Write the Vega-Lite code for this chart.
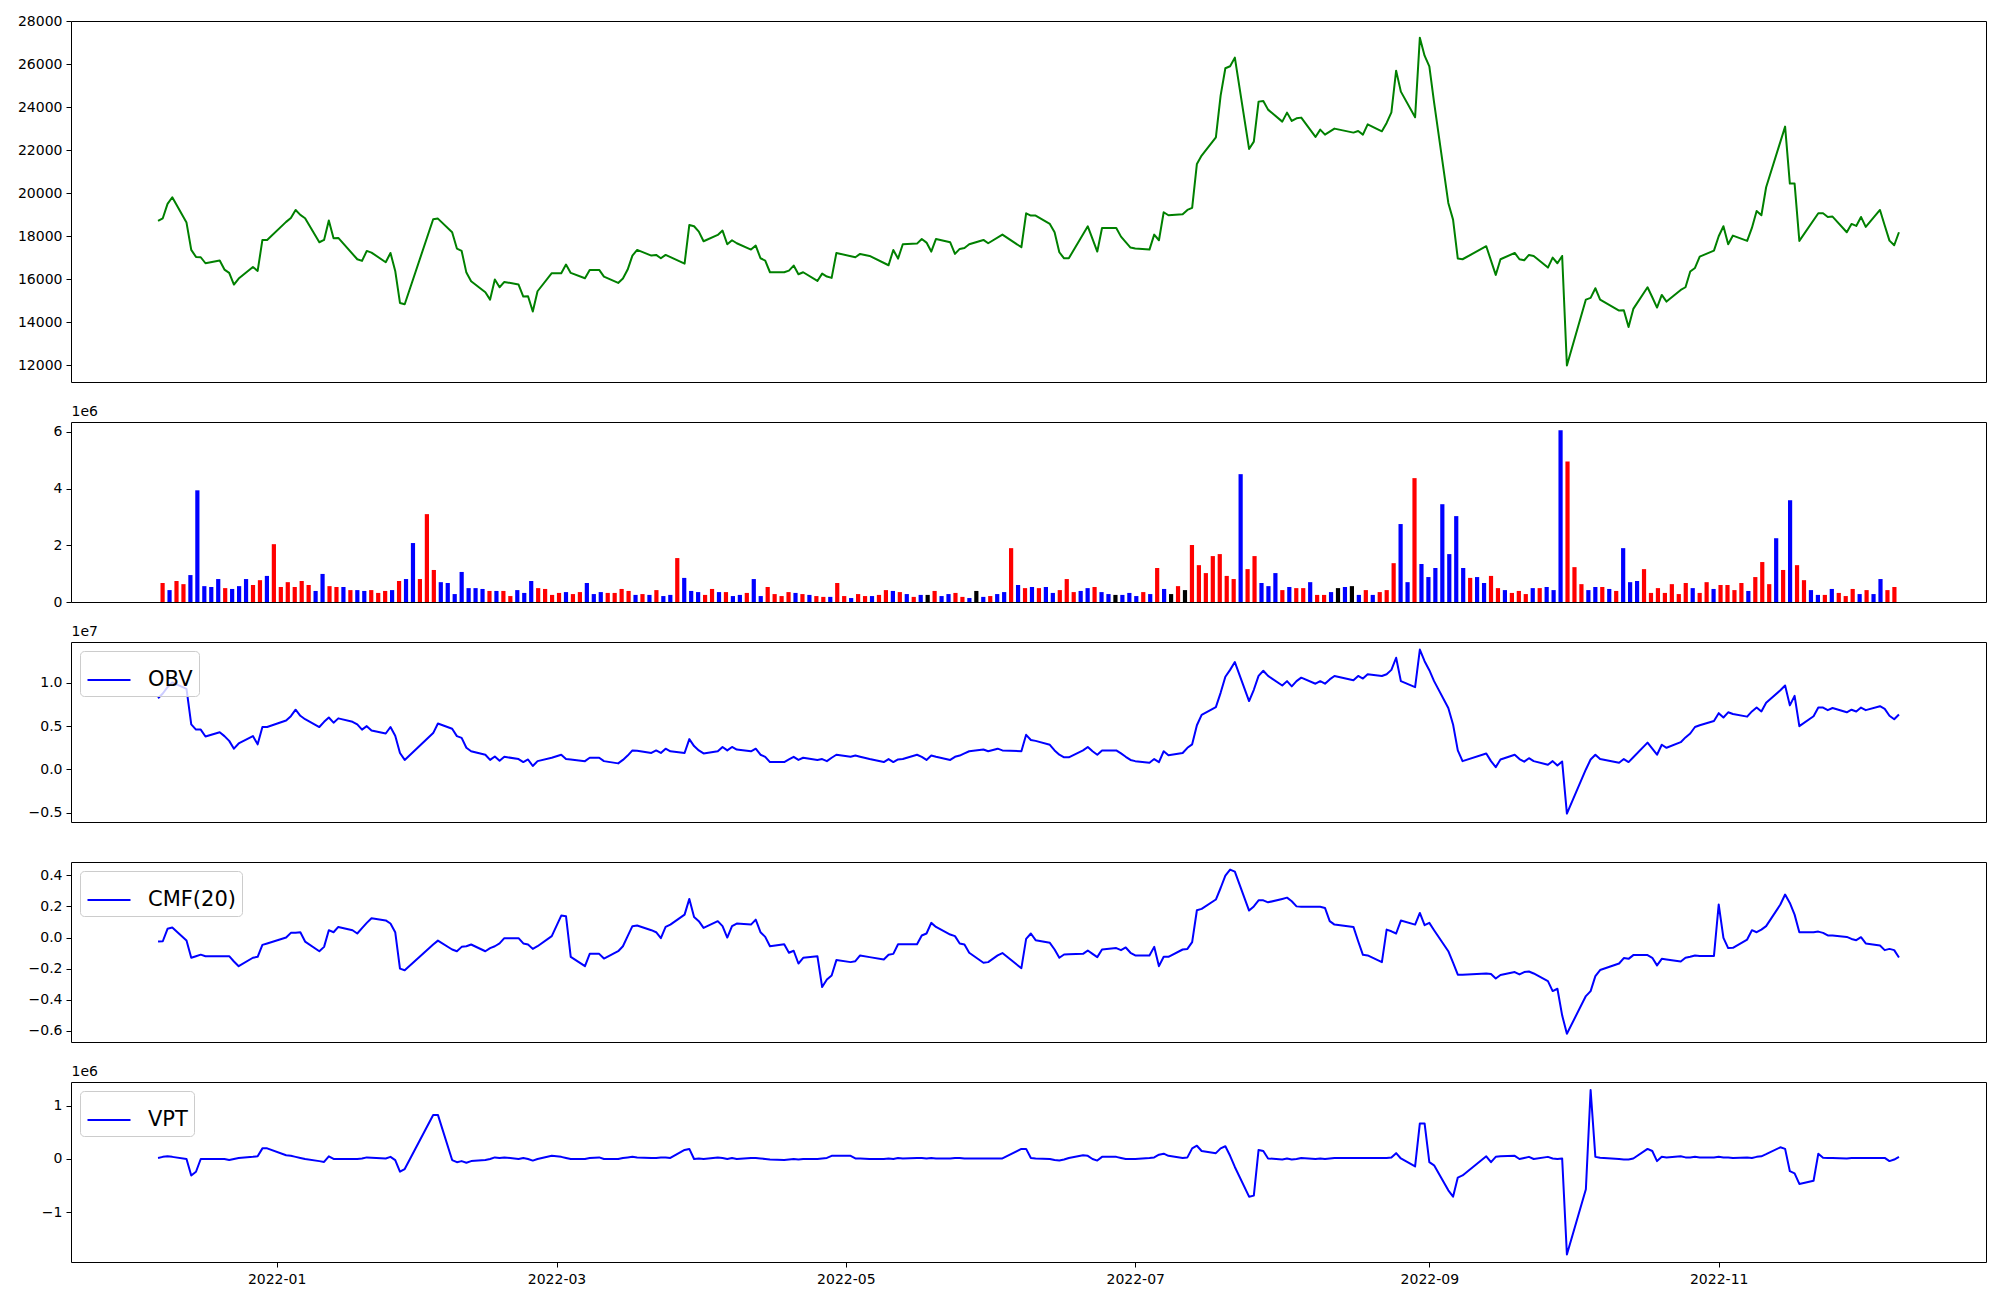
{
"$schema": "https://vega.github.io/schema/vega-lite/v6.json",
"background": "white",
"padding": {"left": 16, "top": 13, "right": 5, "bottom": 5},
"config": {
 "font": "DejaVu Sans",
 "view": {"stroke": "black", "strokeWidth": 1},
 "axis": {"labelFont": "DejaVu Sans", "labelFontSize": 14, "labelColor": "black", "tickColor": "black", "tickSize": 5, "labelPadding": 4, "domain": false, "grid": false, "titleFont": "DejaVu Sans", "titleFontSize": 14, "titleFontWeight": "normal", "titleColor": "black"},
 "legend": {"orient": "top-left", "offset": 9, "symbolType": "stroke", "symbolSize": 1850, "symbolStrokeWidth": 2, "labelFont": "DejaVu Sans", "labelFontSize": 21, "labelColor": "black", "labelOffset": 16, "padding": 6, "fillColor": "rgba(255,255,255,0.8)", "strokeColor": "#cccccc", "cornerRadius": 4, "labelLimit": 0}
},
"datasets": {
"price": [
{"date":"2021-12-07","close":18713},{"date":"2021-12-08","close":18837},{"date":"2021-12-09","close":19503},{"date":"2021-12-10","close":19813},
{"date":"2021-12-13","close":18636},{"date":"2021-12-14","close":17366},{"date":"2021-12-15","close":17041},{"date":"2021-12-16","close":17026},{"date":"2021-12-17","close":16747},
{"date":"2021-12-20","close":16871},{"date":"2021-12-21","close":16453},{"date":"2021-12-22","close":16298},{"date":"2021-12-23","close":15756},{"date":"2021-12-24","close":16035},
{"date":"2021-12-27","close":16577},{"date":"2021-12-28","close":16391},{"date":"2021-12-29","close":17831},{"date":"2021-12-30","close":17831},
{"date":"2022-01-03","close":18670},{"date":"2022-01-04","close":18853},{"date":"2022-01-05","close":19224},{"date":"2022-01-06","close":18992},{"date":"2022-01-07","close":18837},
{"date":"2022-01-10","close":17722},{"date":"2022-01-11","close":17831},{"date":"2022-01-12","close":18729},{"date":"2022-01-13","close":17908},{"date":"2022-01-14","close":17923},
{"date":"2022-01-18","close":16933},{"date":"2022-01-19","close":16855},{"date":"2022-01-20","close":17320},{"date":"2022-01-21","close":17242},
{"date":"2022-01-24","close":16793},{"date":"2022-01-25","close":17226},{"date":"2022-01-26","close":16391},{"date":"2022-01-27","close":14904},{"date":"2022-01-28","close":14842},
{"date":"2022-02-03","close":18791},{"date":"2022-02-04","close":18821},
{"date":"2022-02-07","close":18187},{"date":"2022-02-08","close":17428},{"date":"2022-02-09","close":17320},{"date":"2022-02-10","close":16313},{"date":"2022-02-11","close":15911},
{"date":"2022-02-14","close":15400},{"date":"2022-02-15","close":15059},{"date":"2022-02-16","close":15988},{"date":"2022-02-17","close":15632},{"date":"2022-02-18","close":15880},
{"date":"2022-02-21","close":15756},{"date":"2022-02-22","close":15199},{"date":"2022-02-23","close":15214},{"date":"2022-02-24","close":14502},{"date":"2022-02-25","close":15446},
{"date":"2022-02-28","close":16283},{"date":"2022-03-02","close":16283},{"date":"2022-03-03","close":16685},{"date":"2022-03-04","close":16298},
{"date":"2022-03-07","close":16050},{"date":"2022-03-08","close":16437},{"date":"2022-03-10","close":16437},{"date":"2022-03-11","close":16128},
{"date":"2022-03-14","close":15833},{"date":"2022-03-15","close":16035},{"date":"2022-03-16","close":16453},{"date":"2022-03-17","close":17103},{"date":"2022-03-18","close":17366},
{"date":"2022-03-21","close":17103},{"date":"2022-03-22","close":17134},{"date":"2022-03-23","close":16979},{"date":"2022-03-24","close":17134},
{"date":"2022-03-28","close":16731},{"date":"2022-03-29","close":18527},{"date":"2022-03-30","close":18465},{"date":"2022-03-31","close":18218},{"date":"2022-04-01","close":17769},
{"date":"2022-04-04","close":18063},{"date":"2022-04-05","close":18264},{"date":"2022-04-06","close":17629},{"date":"2022-04-07","close":17815},{"date":"2022-04-08","close":17676},
{"date":"2022-04-11","close":17382},{"date":"2022-04-12","close":17568},{"date":"2022-04-13","close":16979},{"date":"2022-04-14","close":16871},{"date":"2022-04-15","close":16329},
{"date":"2022-04-18","close":16329},{"date":"2022-04-19","close":16406},{"date":"2022-04-20","close":16639},{"date":"2022-04-21","close":16236},{"date":"2022-04-22","close":16329},
{"date":"2022-04-25","close":15926},{"date":"2022-04-26","close":16267},{"date":"2022-04-27","close":16128},{"date":"2022-04-28","close":16066},{"date":"2022-04-29","close":17227},
{"date":"2022-05-03","close":17026},{"date":"2022-05-04","close":17180},{"date":"2022-05-06","close":17087},
{"date":"2022-05-10","close":16654},{"date":"2022-05-11","close":17366},{"date":"2022-05-12","close":16963},{"date":"2022-05-13","close":17629},
{"date":"2022-05-16","close":17660},{"date":"2022-05-17","close":17877},{"date":"2022-05-18","close":17707},{"date":"2022-05-19","close":17289},{"date":"2022-05-20","close":17877},
{"date":"2022-05-23","close":17722},{"date":"2022-05-24","close":17180},{"date":"2022-05-25","close":17413},{"date":"2022-05-26","close":17459},{"date":"2022-05-27","close":17629},
{"date":"2022-05-30","close":17831},{"date":"2022-05-31","close":17676},{"date":"2022-06-03","close":18078},
{"date":"2022-06-07","close":17490},{"date":"2022-06-08","close":19069},{"date":"2022-06-09","close":18961},{"date":"2022-06-10","close":18961},
{"date":"2022-06-13","close":18574},{"date":"2022-06-14","close":18187},{"date":"2022-06-15","close":17258},{"date":"2022-06-16","close":16979},{"date":"2022-06-17","close":16979},
{"date":"2022-06-21","close":18465},{"date":"2022-06-23","close":17289},{"date":"2022-06-24","close":18388},
{"date":"2022-06-27","close":18388},{"date":"2022-06-28","close":17985},{"date":"2022-06-29","close":17730},{"date":"2022-06-30","close":17475},{"date":"2022-07-01","close":17428},
{"date":"2022-07-04","close":17382},{"date":"2022-07-05","close":18078},{"date":"2022-07-06","close":17815},{"date":"2022-07-07","close":19116},{"date":"2022-07-08","close":18977},
{"date":"2022-07-11","close":19023},{"date":"2022-07-12","close":19224},{"date":"2022-07-13","close":19317},{"date":"2022-07-14","close":21361},{"date":"2022-07-15","close":21748},
{"date":"2022-07-18","close":22599},{"date":"2022-07-19","close":24535},{"date":"2022-07-20","close":25805},{"date":"2022-07-21","close":25898},{"date":"2022-07-22","close":26300},
{"date":"2022-07-25","close":22058},{"date":"2022-07-26","close":22398},{"date":"2022-07-27","close":24256},{"date":"2022-07-28","close":24287},{"date":"2022-07-29","close":23885},
{"date":"2022-08-01","close":23327},{"date":"2022-08-02","close":23745},{"date":"2022-08-03","close":23358},{"date":"2022-08-04","close":23482},{"date":"2022-08-05","close":23513},
{"date":"2022-08-08","close":22615},{"date":"2022-08-09","close":22956},{"date":"2022-08-10","close":22723},{"date":"2022-08-12","close":23002},
{"date":"2022-08-16","close":22816},{"date":"2022-08-17","close":22894},{"date":"2022-08-18","close":22723},{"date":"2022-08-19","close":23203},
{"date":"2022-08-22","close":22878},{"date":"2022-08-23","close":23265},{"date":"2022-08-24","close":23761},{"date":"2022-08-25","close":25696},{"date":"2022-08-26","close":24721},
{"date":"2022-08-29","close":23529},{"date":"2022-08-30","close":27229},{"date":"2022-08-31","close":26393},{"date":"2022-09-01","close":25898},{"date":"2022-09-02","close":24225},
{"date":"2022-09-05","close":19549},{"date":"2022-09-06","close":18775},{"date":"2022-09-07","close":16964},{"date":"2022-09-08","close":16933},
{"date":"2022-09-13","close":17537},{"date":"2022-09-15","close":16205},{"date":"2022-09-16","close":16933},
{"date":"2022-09-19","close":17227},{"date":"2022-09-20","close":16933},{"date":"2022-09-21","close":16886},{"date":"2022-09-22","close":17134},{"date":"2022-09-23","close":17087},
{"date":"2022-09-26","close":16545},{"date":"2022-09-27","close":17010},{"date":"2022-09-28","close":16747},{"date":"2022-09-29","close":17087},{"date":"2022-09-30","close":11994},
{"date":"2022-10-04","close":15059},{"date":"2022-10-05","close":15137},{"date":"2022-10-06","close":15586},{"date":"2022-10-07","close":15059},
{"date":"2022-10-11","close":14548},{"date":"2022-10-12","close":14564},{"date":"2022-10-13","close":13789},{"date":"2022-10-14","close":14626},
{"date":"2022-10-17","close":15632},{"date":"2022-10-18","close":15168},{"date":"2022-10-19","close":14688},{"date":"2022-10-20","close":15276},{"date":"2022-10-21","close":14966},
{"date":"2022-10-24","close":15508},{"date":"2022-10-25","close":15632},{"date":"2022-10-26","close":16360},{"date":"2022-10-27","close":16530},{"date":"2022-10-28","close":17057},
{"date":"2022-10-31","close":17335},{"date":"2022-11-01","close":18001},{"date":"2022-11-02","close":18466},{"date":"2022-11-03","close":17630},{"date":"2022-11-04","close":18032},
{"date":"2022-11-07","close":17784},{"date":"2022-11-08","close":18388},{"date":"2022-11-09","close":19178},{"date":"2022-11-10","close":18977},{"date":"2022-11-11","close":20277},
{"date":"2022-11-15","close":23095},{"date":"2022-11-16","close":20447},{"date":"2022-11-17","close":20447},{"date":"2022-11-18","close":17784},
{"date":"2022-11-22","close":19069},{"date":"2022-11-23","close":19069},{"date":"2022-11-24","close":18899},{"date":"2022-11-25","close":18914},
{"date":"2022-11-28","close":18187},{"date":"2022-11-29","close":18574},{"date":"2022-11-30","close":18481},{"date":"2022-12-01","close":18899},{"date":"2022-12-02","close":18435},
{"date":"2022-12-05","close":19224},{"date":"2022-12-06","close":18500},{"date":"2022-12-07","close":17800},{"date":"2022-12-08","close":17583},{"date":"2022-12-09","close":18187}
],
"vol": [
{"i":0,"volume":0.67e6,"dir":"up"},{"i":1,"volume":0.42e6,"dir":"down"},{"i":2,"volume":0.74e6,"dir":"up"},{"i":3,"volume":0.63e6,"dir":"up"},{"i":4,"volume":0.95e6,"dir":"down"},
{"i":5,"volume":3.94e6,"dir":"down"},{"i":6,"volume":0.56e6,"dir":"down"},{"i":7,"volume":0.53e6,"dir":"down"},{"i":8,"volume":0.81e6,"dir":"down"},{"i":9,"volume":0.49e6,"dir":"up"},
{"i":10,"volume":0.46e6,"dir":"down"},{"i":11,"volume":0.56e6,"dir":"down"},{"i":12,"volume":0.81e6,"dir":"down"},{"i":13,"volume":0.60e6,"dir":"up"},{"i":14,"volume":0.77e6,"dir":"up"},
{"i":15,"volume":0.92e6,"dir":"down"},{"i":16,"volume":2.04e6,"dir":"up"},{"i":17,"volume":0.53e6,"dir":"up"},{"i":18,"volume":0.70e6,"dir":"up"},{"i":19,"volume":0.53e6,"dir":"up"},
{"i":20,"volume":0.74e6,"dir":"up"},{"i":21,"volume":0.60e6,"dir":"up"},{"i":22,"volume":0.39e6,"dir":"down"},{"i":23,"volume":0.99e6,"dir":"down"},{"i":24,"volume":0.56e6,"dir":"up"},
{"i":25,"volume":0.53e6,"dir":"up"},{"i":26,"volume":0.53e6,"dir":"down"},{"i":27,"volume":0.42e6,"dir":"up"},{"i":28,"volume":0.42e6,"dir":"down"},{"i":29,"volume":0.39e6,"dir":"down"},
{"i":30,"volume":0.42e6,"dir":"up"},{"i":31,"volume":0.32e6,"dir":"up"},{"i":32,"volume":0.39e6,"dir":"up"},{"i":33,"volume":0.42e6,"dir":"down"},{"i":34,"volume":0.74e6,"dir":"up"},
{"i":35,"volume":0.81e6,"dir":"down"},{"i":36,"volume":2.08e6,"dir":"down"},{"i":37,"volume":0.81e6,"dir":"up"},{"i":38,"volume":3.10e6,"dir":"up"},{"i":39,"volume":1.13e6,"dir":"up"},
{"i":40,"volume":0.70e6,"dir":"down"},{"i":41,"volume":0.67e6,"dir":"down"},{"i":42,"volume":0.28e6,"dir":"down"},{"i":43,"volume":1.06e6,"dir":"down"},{"i":44,"volume":0.49e6,"dir":"down"},
{"i":45,"volume":0.49e6,"dir":"down"},{"i":46,"volume":0.46e6,"dir":"down"},{"i":47,"volume":0.39e6,"dir":"up"},{"i":48,"volume":0.39e6,"dir":"down"},{"i":49,"volume":0.39e6,"dir":"up"},
{"i":50,"volume":0.21e6,"dir":"up"},{"i":51,"volume":0.42e6,"dir":"down"},{"i":52,"volume":0.32e6,"dir":"down"},{"i":53,"volume":0.74e6,"dir":"down"},{"i":54,"volume":0.49e6,"dir":"up"},
{"i":55,"volume":0.46e6,"dir":"up"},{"i":56,"volume":0.25e6,"dir":"up"},{"i":57,"volume":0.32e6,"dir":"up"},{"i":58,"volume":0.35e6,"dir":"down"},{"i":59,"volume":0.28e6,"dir":"up"},
{"i":60,"volume":0.35e6,"dir":"up"},{"i":61,"volume":0.67e6,"dir":"down"},{"i":62,"volume":0.28e6,"dir":"down"},{"i":63,"volume":0.35e6,"dir":"down"},{"i":64,"volume":0.32e6,"dir":"up"},
{"i":65,"volume":0.32e6,"dir":"up"},{"i":66,"volume":0.46e6,"dir":"up"},{"i":67,"volume":0.39e6,"dir":"up"},{"i":68,"volume":0.25e6,"dir":"down"},{"i":69,"volume":0.28e6,"dir":"up"},
{"i":70,"volume":0.25e6,"dir":"down"},{"i":71,"volume":0.42e6,"dir":"up"},{"i":72,"volume":0.21e6,"dir":"down"},{"i":73,"volume":0.25e6,"dir":"down"},{"i":74,"volume":1.55e6,"dir":"up"},
{"i":75,"volume":0.85e6,"dir":"down"},{"i":76,"volume":0.39e6,"dir":"down"},{"i":77,"volume":0.35e6,"dir":"down"},{"i":78,"volume":0.25e6,"dir":"up"},{"i":79,"volume":0.46e6,"dir":"up"},
{"i":80,"volume":0.35e6,"dir":"down"},{"i":81,"volume":0.35e6,"dir":"up"},{"i":82,"volume":0.21e6,"dir":"down"},{"i":83,"volume":0.25e6,"dir":"down"},{"i":84,"volume":0.32e6,"dir":"up"},
{"i":85,"volume":0.81e6,"dir":"down"},{"i":86,"volume":0.21e6,"dir":"down"},{"i":87,"volume":0.53e6,"dir":"up"},{"i":88,"volume":0.28e6,"dir":"up"},{"i":89,"volume":0.21e6,"dir":"up"},
{"i":90,"volume":0.35e6,"dir":"up"},{"i":91,"volume":0.32e6,"dir":"down"},{"i":92,"volume":0.28e6,"dir":"up"},{"i":93,"volume":0.25e6,"dir":"down"},{"i":94,"volume":0.21e6,"dir":"up"},
{"i":95,"volume":0.18e6,"dir":"up"},{"i":96,"volume":0.18e6,"dir":"down"},{"i":97,"volume":0.67e6,"dir":"up"},{"i":98,"volume":0.21e6,"dir":"up"},{"i":99,"volume":0.14e6,"dir":"down"},
{"i":100,"volume":0.28e6,"dir":"up"},{"i":101,"volume":0.21e6,"dir":"up"},{"i":102,"volume":0.21e6,"dir":"down"},{"i":103,"volume":0.25e6,"dir":"up"},{"i":104,"volume":0.42e6,"dir":"up"},
{"i":105,"volume":0.39e6,"dir":"down"},{"i":106,"volume":0.35e6,"dir":"up"},{"i":107,"volume":0.28e6,"dir":"down"},{"i":108,"volume":0.18e6,"dir":"up"},{"i":109,"volume":0.25e6,"dir":"down"},
{"i":110,"volume":0.25e6,"dir":"flat"},{"i":111,"volume":0.39e6,"dir":"up"},{"i":112,"volume":0.21e6,"dir":"down"},{"i":113,"volume":0.28e6,"dir":"down"},{"i":114,"volume":0.32e6,"dir":"up"},
{"i":115,"volume":0.18e6,"dir":"up"},{"i":116,"volume":0.14e6,"dir":"down"},{"i":117,"volume":0.39e6,"dir":"flat"},{"i":118,"volume":0.18e6,"dir":"down"},{"i":119,"volume":0.21e6,"dir":"up"},
{"i":120,"volume":0.28e6,"dir":"down"},{"i":121,"volume":0.35e6,"dir":"down"},{"i":122,"volume":1.90e6,"dir":"up"},{"i":123,"volume":0.60e6,"dir":"down"},{"i":124,"volume":0.49e6,"dir":"up"},
{"i":125,"volume":0.53e6,"dir":"down"},{"i":126,"volume":0.49e6,"dir":"up"},{"i":127,"volume":0.53e6,"dir":"down"},{"i":128,"volume":0.32e6,"dir":"down"},{"i":129,"volume":0.42e6,"dir":"up"},
{"i":130,"volume":0.81e6,"dir":"up"},{"i":131,"volume":0.35e6,"dir":"up"},{"i":132,"volume":0.39e6,"dir":"down"},{"i":133,"volume":0.49e6,"dir":"down"},{"i":134,"volume":0.53e6,"dir":"up"},
{"i":135,"volume":0.35e6,"dir":"down"},{"i":136,"volume":0.28e6,"dir":"down"},{"i":137,"volume":0.25e6,"dir":"flat"},{"i":138,"volume":0.25e6,"dir":"down"},{"i":139,"volume":0.32e6,"dir":"down"},
{"i":140,"volume":0.21e6,"dir":"down"},{"i":141,"volume":0.35e6,"dir":"up"},{"i":142,"volume":0.28e6,"dir":"down"},{"i":143,"volume":1.20e6,"dir":"up"},{"i":144,"volume":0.46e6,"dir":"down"},
{"i":145,"volume":0.28e6,"dir":"flat"},{"i":146,"volume":0.56e6,"dir":"up"},{"i":147,"volume":0.42e6,"dir":"flat"},{"i":148,"volume":2.01e6,"dir":"up"},{"i":149,"volume":1.30e6,"dir":"up"},
{"i":150,"volume":1.02e6,"dir":"up"},{"i":151,"volume":1.62e6,"dir":"up"},{"i":152,"volume":1.69e6,"dir":"up"},{"i":153,"volume":0.92e6,"dir":"up"},{"i":154,"volume":0.81e6,"dir":"up"},
{"i":155,"volume":4.51e6,"dir":"down"},{"i":156,"volume":1.16e6,"dir":"up"},{"i":157,"volume":1.62e6,"dir":"up"},{"i":158,"volume":0.67e6,"dir":"down"},{"i":159,"volume":0.56e6,"dir":"down"},
{"i":160,"volume":1.02e6,"dir":"down"},{"i":161,"volume":0.42e6,"dir":"up"},{"i":162,"volume":0.53e6,"dir":"down"},{"i":163,"volume":0.49e6,"dir":"up"},{"i":164,"volume":0.49e6,"dir":"up"},
{"i":165,"volume":0.70e6,"dir":"down"},{"i":166,"volume":0.25e6,"dir":"up"},{"i":167,"volume":0.25e6,"dir":"up"},{"i":168,"volume":0.35e6,"dir":"down"},{"i":169,"volume":0.49e6,"dir":"flat"},
{"i":170,"volume":0.53e6,"dir":"down"},{"i":171,"volume":0.56e6,"dir":"flat"},{"i":172,"volume":0.25e6,"dir":"down"},{"i":173,"volume":0.42e6,"dir":"up"},{"i":174,"volume":0.25e6,"dir":"down"},
{"i":175,"volume":0.35e6,"dir":"up"},{"i":176,"volume":0.42e6,"dir":"up"},{"i":177,"volume":1.37e6,"dir":"up"},{"i":178,"volume":2.75e6,"dir":"down"},{"i":179,"volume":0.70e6,"dir":"down"},
{"i":180,"volume":4.37e6,"dir":"up"},{"i":181,"volume":1.34e6,"dir":"down"},{"i":182,"volume":0.88e6,"dir":"down"},{"i":183,"volume":1.20e6,"dir":"down"},{"i":184,"volume":3.45e6,"dir":"down"},
{"i":185,"volume":1.69e6,"dir":"down"},{"i":186,"volume":3.03e6,"dir":"down"},{"i":187,"volume":1.20e6,"dir":"down"},{"i":188,"volume":0.85e6,"dir":"up"},{"i":189,"volume":0.88e6,"dir":"down"},
{"i":190,"volume":0.67e6,"dir":"down"},{"i":191,"volume":0.92e6,"dir":"up"},{"i":192,"volume":0.49e6,"dir":"up"},{"i":193,"volume":0.42e6,"dir":"down"},{"i":194,"volume":0.32e6,"dir":"up"},
{"i":195,"volume":0.39e6,"dir":"up"},{"i":196,"volume":0.28e6,"dir":"up"},{"i":197,"volume":0.49e6,"dir":"down"},{"i":198,"volume":0.49e6,"dir":"up"},{"i":199,"volume":0.53e6,"dir":"down"},
{"i":200,"volume":0.42e6,"dir":"down"},{"i":201,"volume":6.06e6,"dir":"down"},{"i":202,"volume":4.96e6,"dir":"up"},{"i":203,"volume":1.23e6,"dir":"up"},{"i":204,"volume":0.63e6,"dir":"up"},
{"i":205,"volume":0.42e6,"dir":"down"},{"i":206,"volume":0.53e6,"dir":"down"},{"i":207,"volume":0.53e6,"dir":"up"},{"i":208,"volume":0.46e6,"dir":"down"},{"i":209,"volume":0.39e6,"dir":"up"},
{"i":210,"volume":1.90e6,"dir":"down"},{"i":211,"volume":0.70e6,"dir":"down"},{"i":212,"volume":0.74e6,"dir":"down"},{"i":213,"volume":1.16e6,"dir":"up"},{"i":214,"volume":0.32e6,"dir":"up"},
{"i":215,"volume":0.49e6,"dir":"up"},{"i":216,"volume":0.32e6,"dir":"up"},{"i":217,"volume":0.63e6,"dir":"up"},{"i":218,"volume":0.28e6,"dir":"up"},{"i":219,"volume":0.67e6,"dir":"up"},
{"i":220,"volume":0.49e6,"dir":"down"},{"i":221,"volume":0.32e6,"dir":"up"},{"i":222,"volume":0.70e6,"dir":"up"},{"i":223,"volume":0.46e6,"dir":"down"},{"i":224,"volume":0.60e6,"dir":"up"},
{"i":225,"volume":0.60e6,"dir":"up"},{"i":226,"volume":0.42e6,"dir":"up"},{"i":227,"volume":0.67e6,"dir":"up"},{"i":228,"volume":0.39e6,"dir":"down"},{"i":229,"volume":0.88e6,"dir":"up"},
{"i":230,"volume":1.41e6,"dir":"up"},{"i":231,"volume":0.63e6,"dir":"up"},{"i":232,"volume":2.25e6,"dir":"down"},{"i":233,"volume":1.13e6,"dir":"up"},{"i":234,"volume":3.59e6,"dir":"down"},
{"i":235,"volume":1.30e6,"dir":"up"},{"i":236,"volume":0.77e6,"dir":"up"},{"i":237,"volume":0.42e6,"dir":"down"},{"i":238,"volume":0.25e6,"dir":"down"},{"i":239,"volume":0.25e6,"dir":"up"},
{"i":240,"volume":0.46e6,"dir":"down"},{"i":241,"volume":0.32e6,"dir":"up"},{"i":242,"volume":0.21e6,"dir":"up"},{"i":243,"volume":0.46e6,"dir":"up"},{"i":244,"volume":0.28e6,"dir":"down"},
{"i":245,"volume":0.42e6,"dir":"up"},{"i":246,"volume":0.28e6,"dir":"down"},{"i":247,"volume":0.81e6,"dir":"down"},{"i":248,"volume":0.42e6,"dir":"up"},{"i":249,"volume":0.53e6,"dir":"up"}
],
"obv": [
{"date":"2021-12-07","obv":0.823e7},{"date":"2021-12-08","obv":0.877e7},{"date":"2021-12-09","obv":0.95e7},{"date":"2021-12-10","obv":1.005e7},
{"date":"2021-12-13","obv":0.93e7},{"date":"2021-12-14","obv":0.52e7},{"date":"2021-12-15","obv":0.46e7},{"date":"2021-12-16","obv":0.46e7},{"date":"2021-12-17","obv":0.38e7},
{"date":"2021-12-20","obv":0.43e7},{"date":"2021-12-21","obv":0.385e7},{"date":"2021-12-22","obv":0.33e7},{"date":"2021-12-23","obv":0.24e7},{"date":"2021-12-24","obv":0.30e7},
{"date":"2021-12-27","obv":0.385e7},{"date":"2021-12-28","obv":0.29e7},{"date":"2021-12-29","obv":0.49e7},{"date":"2021-12-30","obv":0.49e7},
{"date":"2022-01-03","obv":0.565e7},{"date":"2022-01-04","obv":0.615e7},{"date":"2022-01-05","obv":0.69e7},{"date":"2022-01-06","obv":0.62e7},{"date":"2022-01-07","obv":0.58e7},
{"date":"2022-01-10","obv":0.49e7},{"date":"2022-01-11","obv":0.55e7},{"date":"2022-01-12","obv":0.60e7},{"date":"2022-01-13","obv":0.54e7},{"date":"2022-01-14","obv":0.59e7},
{"date":"2022-01-17","obv":0.55e7},{"date":"2022-01-18","obv":0.52e7},{"date":"2022-01-19","obv":0.46e7},{"date":"2022-01-20","obv":0.50e7},{"date":"2022-01-21","obv":0.45e7},
{"date":"2022-01-24","obv":0.415e7},{"date":"2022-01-25","obv":0.49e7},{"date":"2022-01-26","obv":0.39e7},{"date":"2022-01-27","obv":0.19e7},{"date":"2022-01-28","obv":0.11e7},
{"date":"2022-02-03","obv":0.42e7},{"date":"2022-02-04","obv":0.53e7},
{"date":"2022-02-07","obv":0.47e7},{"date":"2022-02-08","obv":0.385e7},{"date":"2022-02-09","obv":0.365e7},{"date":"2022-02-10","obv":0.25e7},{"date":"2022-02-11","obv":0.21e7},
{"date":"2022-02-14","obv":0.17e7},{"date":"2022-02-15","obv":0.11e7},{"date":"2022-02-16","obv":0.15e7},{"date":"2022-02-17","obv":0.10e7},{"date":"2022-02-18","obv":0.146e7},
{"date":"2022-02-21","obv":0.12e7},{"date":"2022-02-22","obv":0.085e7},{"date":"2022-02-23","obv":0.115e7},{"date":"2022-02-24","obv":0.04e7},{"date":"2022-02-25","obv":0.096e7},
{"date":"2022-02-28","obv":0.135e7},{"date":"2022-03-02","obv":0.17e7},{"date":"2022-03-03","obv":0.12e7},{"date":"2022-03-04","obv":0.115e7},
{"date":"2022-03-07","obv":0.096e7},{"date":"2022-03-08","obv":0.135e7},{"date":"2022-03-10","obv":0.135e7},{"date":"2022-03-11","obv":0.096e7},
{"date":"2022-03-14","obv":0.07e7},{"date":"2022-03-15","obv":0.11e7},{"date":"2022-03-16","obv":0.16e7},{"date":"2022-03-17","obv":0.22e7},{"date":"2022-03-18","obv":0.215e7},
{"date":"2022-03-21","obv":0.19e7},{"date":"2022-03-22","obv":0.22e7},{"date":"2022-03-23","obv":0.19e7},{"date":"2022-03-24","obv":0.24e7},{"date":"2022-03-25","obv":0.21e7},
{"date":"2022-03-28","obv":0.19e7},{"date":"2022-03-29","obv":0.35e7},{"date":"2022-03-30","obv":0.27e7},{"date":"2022-03-31","obv":0.22e7},{"date":"2022-04-01","obv":0.185e7},
{"date":"2022-04-04","obv":0.21e7},{"date":"2022-04-05","obv":0.26e7},{"date":"2022-04-06","obv":0.22e7},{"date":"2022-04-07","obv":0.26e7},{"date":"2022-04-08","obv":0.23e7},
{"date":"2022-04-11","obv":0.21e7},{"date":"2022-04-12","obv":0.24e7},{"date":"2022-04-13","obv":0.17e7},{"date":"2022-04-14","obv":0.146e7},{"date":"2022-04-15","obv":0.085e7},
{"date":"2022-04-18","obv":0.085e7},{"date":"2022-04-19","obv":0.115e7},{"date":"2022-04-20","obv":0.146e7},{"date":"2022-04-21","obv":0.11e7},{"date":"2022-04-22","obv":0.135e7},
{"date":"2022-04-25","obv":0.11e7},{"date":"2022-04-26","obv":0.12e7},{"date":"2022-04-27","obv":0.096e7},{"date":"2022-04-28","obv":0.135e7},{"date":"2022-04-29","obv":0.17e7},
{"date":"2022-05-02","obv":0.146e7},{"date":"2022-05-03","obv":0.16e7},{"date":"2022-05-04","obv":0.146e7},{"date":"2022-05-06","obv":0.12e7},
{"date":"2022-05-09","obv":0.085e7},{"date":"2022-05-10","obv":0.12e7},{"date":"2022-05-11","obv":0.085e7},{"date":"2022-05-12","obv":0.115e7},{"date":"2022-05-13","obv":0.12e7},
{"date":"2022-05-16","obv":0.17e7},{"date":"2022-05-17","obv":0.146e7},{"date":"2022-05-18","obv":0.11e7},{"date":"2022-05-19","obv":0.16e7},{"date":"2022-05-20","obv":0.146e7},
{"date":"2022-05-23","obv":0.11e7},{"date":"2022-05-24","obv":0.146e7},{"date":"2022-05-25","obv":0.16e7},{"date":"2022-05-26","obv":0.185e7},{"date":"2022-05-27","obv":0.21e7},
{"date":"2022-05-30","obv":0.23e7},{"date":"2022-05-31","obv":0.21e7},{"date":"2022-06-02","obv":0.24e7},{"date":"2022-06-03","obv":0.22e7},
{"date":"2022-06-07","obv":0.21e7},{"date":"2022-06-08","obv":0.40e7},{"date":"2022-06-09","obv":0.34e7},{"date":"2022-06-10","obv":0.33e7},
{"date":"2022-06-13","obv":0.285e7},{"date":"2022-06-14","obv":0.22e7},{"date":"2022-06-15","obv":0.17e7},{"date":"2022-06-16","obv":0.14e7},{"date":"2022-06-17","obv":0.14e7},
{"date":"2022-06-20","obv":0.22e7},{"date":"2022-06-21","obv":0.26e7},{"date":"2022-06-22","obv":0.21e7},{"date":"2022-06-23","obv":0.17e7},{"date":"2022-06-24","obv":0.22e7},
{"date":"2022-06-27","obv":0.22e7},{"date":"2022-06-28","obv":0.185e7},{"date":"2022-06-29","obv":0.146e7},{"date":"2022-06-30","obv":0.11e7},{"date":"2022-07-01","obv":0.096e7},
{"date":"2022-07-04","obv":0.077e7},{"date":"2022-07-05","obv":0.12e7},{"date":"2022-07-06","obv":0.085e7},{"date":"2022-07-07","obv":0.21e7},{"date":"2022-07-08","obv":0.165e7},
{"date":"2022-07-11","obv":0.19e7},{"date":"2022-07-12","obv":0.25e7},{"date":"2022-07-13","obv":0.29e7},{"date":"2022-07-14","obv":0.51e7},{"date":"2022-07-15","obv":0.63e7},
{"date":"2022-07-18","obv":0.72e7},{"date":"2022-07-19","obv":0.885e7},{"date":"2022-07-20","obv":1.07e7},{"date":"2022-07-21","obv":1.15e7},{"date":"2022-07-22","obv":1.24e7},
{"date":"2022-07-25","obv":0.79e7},{"date":"2022-07-26","obv":0.92e7},{"date":"2022-07-27","obv":1.08e7},{"date":"2022-07-28","obv":1.14e7},{"date":"2022-07-29","obv":1.08e7},
{"date":"2022-08-01","obv":0.97e7},{"date":"2022-08-02","obv":1.02e7},{"date":"2022-08-03","obv":0.96e7},{"date":"2022-08-04","obv":1.02e7},{"date":"2022-08-05","obv":1.06e7},
{"date":"2022-08-08","obv":0.99e7},{"date":"2022-08-09","obv":1.02e7},{"date":"2022-08-10","obv":0.99e7},{"date":"2022-08-11","obv":1.04e7},{"date":"2022-08-12","obv":1.08e7},
{"date":"2022-08-16","obv":1.03e7},{"date":"2022-08-17","obv":1.08e7},{"date":"2022-08-18","obv":1.05e7},{"date":"2022-08-19","obv":1.10e7},
{"date":"2022-08-22","obv":1.08e7},{"date":"2022-08-23","obv":1.10e7},{"date":"2022-08-24","obv":1.15e7},{"date":"2022-08-25","obv":1.29e7},{"date":"2022-08-26","obv":1.02e7},
{"date":"2022-08-29","obv":0.95e7},{"date":"2022-08-30","obv":1.385e7},{"date":"2022-08-31","obv":1.25e7},{"date":"2022-09-01","obv":1.146e7},{"date":"2022-09-02","obv":1.02e7},
{"date":"2022-09-05","obv":0.71e7},{"date":"2022-09-06","obv":0.52e7},{"date":"2022-09-07","obv":0.22e7},{"date":"2022-09-08","obv":0.096e7},
{"date":"2022-09-13","obv":0.185e7},{"date":"2022-09-14","obv":0.096e7},{"date":"2022-09-15","obv":0.027e7},{"date":"2022-09-16","obv":0.115e7},
{"date":"2022-09-19","obv":0.17e7},{"date":"2022-09-20","obv":0.12e7},{"date":"2022-09-21","obv":0.09e7},{"date":"2022-09-22","obv":0.13e7},{"date":"2022-09-23","obv":0.096e7},
{"date":"2022-09-26","obv":0.054e7},{"date":"2022-09-27","obv":0.096e7},{"date":"2022-09-28","obv":0.046e7},{"date":"2022-09-29","obv":0.092e7},{"date":"2022-09-30","obv":-0.51e7},
{"date":"2022-10-04","obv":0.0},{"date":"2022-10-05","obv":0.115e7},{"date":"2022-10-06","obv":0.17e7},{"date":"2022-10-07","obv":0.12e7},
{"date":"2022-10-11","obv":0.077e7},{"date":"2022-10-12","obv":0.12e7},{"date":"2022-10-13","obv":0.085e7},{"date":"2022-10-14","obv":0.14e7},
{"date":"2022-10-17","obv":0.31e7},{"date":"2022-10-18","obv":0.24e7},{"date":"2022-10-19","obv":0.17e7},{"date":"2022-10-20","obv":0.285e7},{"date":"2022-10-21","obv":0.25e7},
{"date":"2022-10-24","obv":0.315e7},{"date":"2022-10-25","obv":0.37e7},{"date":"2022-10-26","obv":0.415e7},{"date":"2022-10-27","obv":0.49e7},{"date":"2022-10-28","obv":0.51e7},
{"date":"2022-10-31","obv":0.56e7},{"date":"2022-11-01","obv":0.65e7},{"date":"2022-11-02","obv":0.60e7},{"date":"2022-11-03","obv":0.66e7},{"date":"2022-11-04","obv":0.64e7},
{"date":"2022-11-07","obv":0.61e7},{"date":"2022-11-08","obv":0.67e7},{"date":"2022-11-09","obv":0.715e7},{"date":"2022-11-10","obv":0.67e7},{"date":"2022-11-11","obv":0.77e7},
{"date":"2022-11-14","obv":0.915e7},{"date":"2022-11-15","obv":0.97e7},{"date":"2022-11-16","obv":0.74e7},{"date":"2022-11-17","obv":0.85e7},{"date":"2022-11-18","obv":0.50e7},
{"date":"2022-11-21","obv":0.615e7},{"date":"2022-11-22","obv":0.715e7},{"date":"2022-11-23","obv":0.715e7},{"date":"2022-11-24","obv":0.685e7},{"date":"2022-11-25","obv":0.71e7},
{"date":"2022-11-28","obv":0.66e7},{"date":"2022-11-29","obv":0.69e7},{"date":"2022-11-30","obv":0.67e7},{"date":"2022-12-01","obv":0.715e7},{"date":"2022-12-02","obv":0.685e7},
{"date":"2022-12-05","obv":0.73e7},{"date":"2022-12-06","obv":0.70e7},{"date":"2022-12-07","obv":0.62e7},{"date":"2022-12-08","obv":0.58e7},{"date":"2022-12-09","obv":0.635e7}
],
"cmf": [
{"date":"2021-12-07","cmf":-0.026},{"date":"2021-12-08","cmf":-0.024},{"date":"2021-12-09","cmf":0.056},{"date":"2021-12-10","cmf":0.064},
{"date":"2021-12-13","cmf":-0.019},{"date":"2021-12-14","cmf":-0.13},{"date":"2021-12-15","cmf":-0.12},{"date":"2021-12-16","cmf":-0.11},{"date":"2021-12-17","cmf":-0.12},
{"date":"2021-12-20","cmf":-0.12},{"date":"2021-12-21","cmf":-0.12},{"date":"2021-12-22","cmf":-0.12},{"date":"2021-12-23","cmf":-0.154},{"date":"2021-12-24","cmf":-0.184},
{"date":"2021-12-27","cmf":-0.13},{"date":"2021-12-28","cmf":-0.124},{"date":"2021-12-29","cmf":-0.047},{"date":"2021-12-30","cmf":-0.038},
{"date":"2022-01-03","cmf":0.0},{"date":"2022-01-04","cmf":0.03},{"date":"2022-01-05","cmf":0.03},{"date":"2022-01-06","cmf":0.034},{"date":"2022-01-07","cmf":-0.026},
{"date":"2022-01-10","cmf":-0.088},{"date":"2022-01-11","cmf":-0.06},{"date":"2022-01-12","cmf":0.047},{"date":"2022-01-13","cmf":0.034},{"date":"2022-01-14","cmf":0.068},
{"date":"2022-01-17","cmf":0.047},{"date":"2022-01-18","cmf":0.026},{"date":"2022-01-19","cmf":0.06},{"date":"2022-01-20","cmf":0.094},{"date":"2022-01-21","cmf":0.124},
{"date":"2022-01-24","cmf":0.11},{"date":"2022-01-25","cmf":0.09},{"date":"2022-01-26","cmf":0.034},{"date":"2022-01-27","cmf":-0.20},{"date":"2022-01-28","cmf":-0.21},
{"date":"2022-02-03","cmf":-0.045},{"date":"2022-02-04","cmf":-0.02},
{"date":"2022-02-07","cmf":-0.077},{"date":"2022-02-08","cmf":-0.088},{"date":"2022-02-09","cmf":-0.06},{"date":"2022-02-10","cmf":-0.056},{"date":"2022-02-11","cmf":-0.045},
{"date":"2022-02-14","cmf":-0.088},{"date":"2022-02-15","cmf":-0.068},{"date":"2022-02-16","cmf":-0.056},{"date":"2022-02-17","cmf":-0.038},{"date":"2022-02-18","cmf":-0.004},
{"date":"2022-02-21","cmf":-0.004},{"date":"2022-02-22","cmf":-0.038},{"date":"2022-02-23","cmf":-0.045},{"date":"2022-02-24","cmf":-0.073},{"date":"2022-02-25","cmf":-0.056},
{"date":"2022-02-28","cmf":0.009},{"date":"2022-03-02","cmf":0.141},{"date":"2022-03-03","cmf":0.137},{"date":"2022-03-04","cmf":-0.124},
{"date":"2022-03-07","cmf":-0.184},{"date":"2022-03-08","cmf":-0.105},{"date":"2022-03-10","cmf":-0.105},{"date":"2022-03-11","cmf":-0.135},
{"date":"2022-03-14","cmf":-0.088},{"date":"2022-03-15","cmf":-0.056},{"date":"2022-03-16","cmf":0.009},{"date":"2022-03-17","cmf":0.073},{"date":"2022-03-18","cmf":0.077},
{"date":"2022-03-21","cmf":0.047},{"date":"2022-03-22","cmf":0.034},{"date":"2022-03-23","cmf":-0.004},{"date":"2022-03-24","cmf":0.068},{"date":"2022-03-25","cmf":0.083},
{"date":"2022-03-28","cmf":0.147},{"date":"2022-03-29","cmf":0.248},{"date":"2022-03-30","cmf":0.132},{"date":"2022-03-31","cmf":0.105},{"date":"2022-04-01","cmf":0.062},
{"date":"2022-04-04","cmf":0.105},{"date":"2022-04-05","cmf":0.073},{"date":"2022-04-06","cmf":0.0},{"date":"2022-04-07","cmf":0.073},{"date":"2022-04-08","cmf":0.09},
{"date":"2022-04-11","cmf":0.083},{"date":"2022-04-12","cmf":0.115},{"date":"2022-04-13","cmf":0.034},{"date":"2022-04-14","cmf":0.004},{"date":"2022-04-15","cmf":-0.056},
{"date":"2022-04-18","cmf":-0.043},{"date":"2022-04-19","cmf":-0.098},{"date":"2022-04-20","cmf":-0.085},{"date":"2022-04-21","cmf":-0.167},{"date":"2022-04-22","cmf":-0.13},
{"date":"2022-04-25","cmf":-0.12},{"date":"2022-04-26","cmf":-0.318},{"date":"2022-04-27","cmf":-0.27},{"date":"2022-04-28","cmf":-0.244},{"date":"2022-04-29","cmf":-0.145},
{"date":"2022-05-02","cmf":-0.158},{"date":"2022-05-03","cmf":-0.152},{"date":"2022-05-04","cmf":-0.115},{"date":"2022-05-06","cmf":-0.126},
{"date":"2022-05-09","cmf":-0.141},{"date":"2022-05-10","cmf":-0.111},{"date":"2022-05-11","cmf":-0.105},{"date":"2022-05-12","cmf":-0.043},{"date":"2022-05-13","cmf":-0.043},
{"date":"2022-05-16","cmf":-0.043},{"date":"2022-05-17","cmf":0.013},{"date":"2022-05-18","cmf":0.026},{"date":"2022-05-19","cmf":0.094},{"date":"2022-05-20","cmf":0.068},
{"date":"2022-05-23","cmf":0.019},{"date":"2022-05-24","cmf":0.009},{"date":"2022-05-25","cmf":-0.038},{"date":"2022-05-26","cmf":-0.045},{"date":"2022-05-27","cmf":-0.098},
{"date":"2022-05-30","cmf":-0.162},{"date":"2022-05-31","cmf":-0.158},{"date":"2022-06-02","cmf":-0.115},{"date":"2022-06-03","cmf":-0.10},
{"date":"2022-06-07","cmf":-0.197},{"date":"2022-06-08","cmf":-0.009},{"date":"2022-06-09","cmf":0.026},{"date":"2022-06-10","cmf":-0.017},
{"date":"2022-06-13","cmf":-0.034},{"date":"2022-06-14","cmf":-0.077},{"date":"2022-06-15","cmf":-0.13},{"date":"2022-06-16","cmf":-0.109},{"date":"2022-06-17","cmf":-0.107},
{"date":"2022-06-20","cmf":-0.105},{"date":"2022-06-21","cmf":-0.083},{"date":"2022-06-22","cmf":-0.105},{"date":"2022-06-23","cmf":-0.126},{"date":"2022-06-24","cmf":-0.077},
{"date":"2022-06-27","cmf":-0.068},{"date":"2022-06-28","cmf":-0.081},{"date":"2022-06-29","cmf":-0.064},{"date":"2022-06-30","cmf":-0.098},{"date":"2022-07-01","cmf":-0.115},
{"date":"2022-07-04","cmf":-0.115},{"date":"2022-07-05","cmf":-0.06},{"date":"2022-07-06","cmf":-0.184},{"date":"2022-07-07","cmf":-0.124},{"date":"2022-07-08","cmf":-0.124},
{"date":"2022-07-11","cmf":-0.077},{"date":"2022-07-12","cmf":-0.073},{"date":"2022-07-13","cmf":-0.03},{"date":"2022-07-14","cmf":0.175},{"date":"2022-07-15","cmf":0.184},
{"date":"2022-07-18","cmf":0.244},{"date":"2022-07-19","cmf":0.318},{"date":"2022-07-20","cmf":0.397},{"date":"2022-07-21","cmf":0.436},{"date":"2022-07-22","cmf":0.423},
{"date":"2022-07-25","cmf":0.173},{"date":"2022-07-26","cmf":0.20},{"date":"2022-07-27","cmf":0.239},{"date":"2022-07-28","cmf":0.239},{"date":"2022-07-29","cmf":0.226},
{"date":"2022-08-01","cmf":0.248},{"date":"2022-08-02","cmf":0.256},{"date":"2022-08-03","cmf":0.233},{"date":"2022-08-04","cmf":0.20},{"date":"2022-08-05","cmf":0.197},
{"date":"2022-08-08","cmf":0.197},{"date":"2022-08-09","cmf":0.197},{"date":"2022-08-10","cmf":0.19},{"date":"2022-08-11","cmf":0.105},{"date":"2022-08-12","cmf":0.083},
{"date":"2022-08-16","cmf":0.068},{"date":"2022-08-17","cmf":-0.024},{"date":"2022-08-18","cmf":-0.111},{"date":"2022-08-19","cmf":-0.115},
{"date":"2022-08-22","cmf":-0.158},{"date":"2022-08-23","cmf":0.051},{"date":"2022-08-24","cmf":0.04},{"date":"2022-08-25","cmf":0.026},{"date":"2022-08-26","cmf":0.109},
{"date":"2022-08-29","cmf":0.083},{"date":"2022-08-30","cmf":0.158},{"date":"2022-08-31","cmf":0.079},{"date":"2022-09-01","cmf":0.094},{"date":"2022-09-02","cmf":0.047},
{"date":"2022-09-05","cmf":-0.088},{"date":"2022-09-06","cmf":-0.162},{"date":"2022-09-07","cmf":-0.239},{"date":"2022-09-08","cmf":-0.239},
{"date":"2022-09-13","cmf":-0.231},{"date":"2022-09-14","cmf":-0.235},{"date":"2022-09-15","cmf":-0.263},{"date":"2022-09-16","cmf":-0.241},
{"date":"2022-09-19","cmf":-0.222},{"date":"2022-09-20","cmf":-0.237},{"date":"2022-09-21","cmf":-0.222},{"date":"2022-09-22","cmf":-0.218},{"date":"2022-09-23","cmf":-0.231},
{"date":"2022-09-26","cmf":-0.28},{"date":"2022-09-27","cmf":-0.344},{"date":"2022-09-28","cmf":-0.329},{"date":"2022-09-29","cmf":-0.50},{"date":"2022-09-30","cmf":-0.618},
{"date":"2022-10-04","cmf":-0.376},{"date":"2022-10-05","cmf":-0.344},{"date":"2022-10-06","cmf":-0.248},{"date":"2022-10-07","cmf":-0.209},
{"date":"2022-10-11","cmf":-0.167},{"date":"2022-10-12","cmf":-0.132},{"date":"2022-10-13","cmf":-0.137},{"date":"2022-10-14","cmf":-0.113},
{"date":"2022-10-17","cmf":-0.113},{"date":"2022-10-18","cmf":-0.13},{"date":"2022-10-19","cmf":-0.179},{"date":"2022-10-20","cmf":-0.137},{"date":"2022-10-21","cmf":-0.141},
{"date":"2022-10-24","cmf":-0.154},{"date":"2022-10-25","cmf":-0.13},{"date":"2022-10-26","cmf":-0.124},{"date":"2022-10-27","cmf":-0.115},{"date":"2022-10-28","cmf":-0.118},
{"date":"2022-10-31","cmf":-0.118},{"date":"2022-11-01","cmf":0.212},{"date":"2022-11-02","cmf":-0.002},{"date":"2022-11-03","cmf":-0.068},{"date":"2022-11-04","cmf":-0.066},
{"date":"2022-11-07","cmf":-0.013},{"date":"2022-11-08","cmf":0.047},{"date":"2022-11-09","cmf":0.034},{"date":"2022-11-10","cmf":0.051},{"date":"2022-11-11","cmf":0.073},
{"date":"2022-11-14","cmf":0.212},{"date":"2022-11-15","cmf":0.276},{"date":"2022-11-16","cmf":0.222},{"date":"2022-11-17","cmf":0.147},{"date":"2022-11-18","cmf":0.034},
{"date":"2022-11-21","cmf":0.034},{"date":"2022-11-22","cmf":0.038},{"date":"2022-11-23","cmf":0.03},{"date":"2022-11-24","cmf":0.013},{"date":"2022-11-25","cmf":0.013},
{"date":"2022-11-28","cmf":0.004},{"date":"2022-11-29","cmf":-0.009},{"date":"2022-11-30","cmf":-0.017},{"date":"2022-12-01","cmf":0.002},{"date":"2022-12-02","cmf":-0.038},
{"date":"2022-12-05","cmf":-0.051},{"date":"2022-12-06","cmf":-0.081},{"date":"2022-12-07","cmf":-0.073},{"date":"2022-12-08","cmf":-0.081},{"date":"2022-12-09","cmf":-0.128}
],
"vpt": [
{"date":"2021-12-07","vpt":0.02e6},{"date":"2021-12-08","vpt":0.04e6},{"date":"2021-12-09","vpt":0.05e6},{"date":"2021-12-10","vpt":0.04e6},
{"date":"2021-12-13","vpt":0.0},{"date":"2021-12-14","vpt":-0.31e6},{"date":"2021-12-15","vpt":-0.24e6},{"date":"2021-12-16","vpt":0.0},{"date":"2021-12-17","vpt":0.0},
{"date":"2021-12-20","vpt":0.0},{"date":"2021-12-21","vpt":0.0},{"date":"2021-12-22","vpt":-0.02e6},{"date":"2021-12-23","vpt":0.0},{"date":"2021-12-24","vpt":0.02e6},
{"date":"2021-12-27","vpt":0.04e6},{"date":"2021-12-28","vpt":0.05e6},{"date":"2021-12-29","vpt":0.2e6},{"date":"2021-12-30","vpt":0.2e6},
{"date":"2022-01-03","vpt":0.07e6},{"date":"2022-01-04","vpt":0.06e6},{"date":"2022-01-05","vpt":0.04e6},{"date":"2022-01-06","vpt":0.02e6},{"date":"2022-01-07","vpt":0.0},
{"date":"2022-01-10","vpt":-0.04e6},{"date":"2022-01-11","vpt":-0.055e6},{"date":"2022-01-12","vpt":0.05e6},{"date":"2022-01-13","vpt":0.0},{"date":"2022-01-14","vpt":0.0},
{"date":"2022-01-17","vpt":0.0},{"date":"2022-01-18","vpt":0.0},{"date":"2022-01-19","vpt":0.01e6},{"date":"2022-01-20","vpt":0.03e6},{"date":"2022-01-21","vpt":0.025e6},
{"date":"2022-01-24","vpt":0.01e6},{"date":"2022-01-25","vpt":0.04e6},{"date":"2022-01-26","vpt":-0.02e6},{"date":"2022-01-27","vpt":-0.24e6},{"date":"2022-01-28","vpt":-0.19e6},
{"date":"2022-02-03","vpt":0.83e6},{"date":"2022-02-04","vpt":0.83e6},
{"date":"2022-02-07","vpt":-0.02e6},{"date":"2022-02-08","vpt":-0.06e6},{"date":"2022-02-09","vpt":-0.04e6},{"date":"2022-02-10","vpt":-0.07e6},{"date":"2022-02-11","vpt":-0.04e6},
{"date":"2022-02-14","vpt":-0.02e6},{"date":"2022-02-15","vpt":0.0},{"date":"2022-02-16","vpt":0.03e6},{"date":"2022-02-17","vpt":0.02e6},{"date":"2022-02-18","vpt":0.03e6},
{"date":"2022-02-21","vpt":0.0},{"date":"2022-02-22","vpt":0.02e6},{"date":"2022-02-23","vpt":0.0},{"date":"2022-02-24","vpt":-0.03e6},{"date":"2022-02-25","vpt":0.0},
{"date":"2022-02-28","vpt":0.06e6},{"date":"2022-03-02","vpt":0.04e6},{"date":"2022-03-03","vpt":0.02e6},{"date":"2022-03-04","vpt":0.0},
{"date":"2022-03-07","vpt":0.0},{"date":"2022-03-08","vpt":0.02e6},{"date":"2022-03-10","vpt":0.03e6},{"date":"2022-03-11","vpt":0.0},
{"date":"2022-03-14","vpt":0.0},{"date":"2022-03-15","vpt":0.02e6},{"date":"2022-03-16","vpt":0.03e6},{"date":"2022-03-17","vpt":0.04e6},{"date":"2022-03-18","vpt":0.03e6},
{"date":"2022-03-21","vpt":0.02e6},{"date":"2022-03-22","vpt":0.02e6},{"date":"2022-03-23","vpt":0.03e6},{"date":"2022-03-24","vpt":0.03e6},{"date":"2022-03-25","vpt":0.02e6},
{"date":"2022-03-28","vpt":0.17e6},{"date":"2022-03-29","vpt":0.19e6},{"date":"2022-03-30","vpt":0.0},{"date":"2022-03-31","vpt":0.01e6},{"date":"2022-04-01","vpt":0.0},
{"date":"2022-04-04","vpt":0.03e6},{"date":"2022-04-05","vpt":0.02e6},{"date":"2022-04-06","vpt":0.0},{"date":"2022-04-07","vpt":0.02e6},{"date":"2022-04-08","vpt":0.0},
{"date":"2022-04-11","vpt":0.02e6},{"date":"2022-04-12","vpt":0.02e6},{"date":"2022-04-13","vpt":0.01e6},{"date":"2022-04-14","vpt":0.0},{"date":"2022-04-15","vpt":-0.01e6},
{"date":"2022-04-18","vpt":-0.02e6},{"date":"2022-04-19","vpt":-0.01e6},{"date":"2022-04-20","vpt":0.0},{"date":"2022-04-21","vpt":-0.01e6},{"date":"2022-04-22","vpt":0.0},
{"date":"2022-04-25","vpt":0.0},{"date":"2022-04-26","vpt":0.01e6},{"date":"2022-04-27","vpt":0.02e6},{"date":"2022-04-28","vpt":0.06e6},{"date":"2022-04-29","vpt":0.06e6},
{"date":"2022-05-02","vpt":0.06e6},{"date":"2022-05-03","vpt":0.01e6},{"date":"2022-05-04","vpt":0.01e6},{"date":"2022-05-06","vpt":0.0},
{"date":"2022-05-09","vpt":0.0},{"date":"2022-05-10","vpt":0.01e6},{"date":"2022-05-11","vpt":0.0},{"date":"2022-05-12","vpt":0.02e6},{"date":"2022-05-13","vpt":0.01e6},
{"date":"2022-05-16","vpt":0.02e6},{"date":"2022-05-17","vpt":0.02e6},{"date":"2022-05-18","vpt":0.01e6},{"date":"2022-05-19","vpt":0.02e6},{"date":"2022-05-20","vpt":0.01e6},
{"date":"2022-05-23","vpt":0.01e6},{"date":"2022-05-24","vpt":0.02e6},{"date":"2022-05-25","vpt":0.02e6},{"date":"2022-05-26","vpt":0.01e6},{"date":"2022-05-27","vpt":0.01e6},
{"date":"2022-05-30","vpt":0.01e6},{"date":"2022-05-31","vpt":0.01e6},{"date":"2022-06-02","vpt":0.01e6},{"date":"2022-06-03","vpt":0.01e6},
{"date":"2022-06-07","vpt":0.19e6},{"date":"2022-06-08","vpt":0.19e6},{"date":"2022-06-09","vpt":0.02e6},{"date":"2022-06-10","vpt":0.01e6},
{"date":"2022-06-13","vpt":0.0},{"date":"2022-06-14","vpt":-0.02e6},{"date":"2022-06-15","vpt":-0.03e6},{"date":"2022-06-16","vpt":-0.01e6},{"date":"2022-06-17","vpt":0.02e6},
{"date":"2022-06-20","vpt":0.07e6},{"date":"2022-06-21","vpt":0.06e6},{"date":"2022-06-22","vpt":0.0},{"date":"2022-06-23","vpt":-0.03e6},{"date":"2022-06-24","vpt":0.04e6},
{"date":"2022-06-27","vpt":0.04e6},{"date":"2022-06-28","vpt":0.02e6},{"date":"2022-06-29","vpt":0.0},{"date":"2022-06-30","vpt":0.0},{"date":"2022-07-01","vpt":0.0},
{"date":"2022-07-04","vpt":0.02e6},{"date":"2022-07-05","vpt":0.03e6},{"date":"2022-07-06","vpt":0.08e6},{"date":"2022-07-07","vpt":0.1e6},{"date":"2022-07-08","vpt":0.06e6},
{"date":"2022-07-11","vpt":0.02e6},{"date":"2022-07-12","vpt":0.03e6},{"date":"2022-07-13","vpt":0.2e6},{"date":"2022-07-14","vpt":0.25e6},{"date":"2022-07-15","vpt":0.15e6},
{"date":"2022-07-18","vpt":0.11e6},{"date":"2022-07-19","vpt":0.2e6},{"date":"2022-07-20","vpt":0.24e6},{"date":"2022-07-21","vpt":0.06e6},{"date":"2022-07-22","vpt":-0.15e6},
{"date":"2022-07-25","vpt":-0.71e6},{"date":"2022-07-26","vpt":-0.69e6},{"date":"2022-07-27","vpt":0.17e6},{"date":"2022-07-28","vpt":0.15e6},{"date":"2022-07-29","vpt":0.01e6},
{"date":"2022-08-01","vpt":-0.01e6},{"date":"2022-08-02","vpt":0.01e6},{"date":"2022-08-03","vpt":-0.01e6},{"date":"2022-08-04","vpt":0.0},{"date":"2022-08-05","vpt":0.02e6},
{"date":"2022-08-08","vpt":0.0},{"date":"2022-08-09","vpt":0.01e6},{"date":"2022-08-10","vpt":0.0},{"date":"2022-08-11","vpt":0.01e6},{"date":"2022-08-12","vpt":0.02e6},
{"date":"2022-08-16","vpt":0.02e6},{"date":"2022-08-17","vpt":0.02e6},{"date":"2022-08-18","vpt":0.02e6},{"date":"2022-08-19","vpt":0.02e6},
{"date":"2022-08-22","vpt":0.02e6},{"date":"2022-08-23","vpt":0.02e6},{"date":"2022-08-24","vpt":0.03e6},{"date":"2022-08-25","vpt":0.11e6},{"date":"2022-08-26","vpt":0.01e6},
{"date":"2022-08-29","vpt":-0.14e6},{"date":"2022-08-30","vpt":0.67e6},{"date":"2022-08-31","vpt":0.67e6},{"date":"2022-09-01","vpt":-0.06e6},{"date":"2022-09-02","vpt":-0.12e6},
{"date":"2022-09-05","vpt":-0.59e6},{"date":"2022-09-06","vpt":-0.71e6},{"date":"2022-09-07","vpt":-0.35e6},{"date":"2022-09-08","vpt":-0.31e6},
{"date":"2022-09-13","vpt":0.05e6},{"date":"2022-09-14","vpt":-0.06e6},{"date":"2022-09-15","vpt":0.04e6},{"date":"2022-09-16","vpt":0.05e6},
{"date":"2022-09-19","vpt":0.06e6},{"date":"2022-09-20","vpt":0.0},{"date":"2022-09-21","vpt":0.02e6},{"date":"2022-09-22","vpt":0.04e6},{"date":"2022-09-23","vpt":0.0},
{"date":"2022-09-26","vpt":0.04e6},{"date":"2022-09-27","vpt":0.01e6},{"date":"2022-09-28","vpt":0.0},{"date":"2022-09-29","vpt":0.01e6},{"date":"2022-09-30","vpt":-1.80e6},
{"date":"2022-10-04","vpt":-0.57e6},{"date":"2022-10-05","vpt":1.30e6},{"date":"2022-10-06","vpt":0.04e6},{"date":"2022-10-07","vpt":0.025e6},
{"date":"2022-10-11","vpt":0.0},{"date":"2022-10-12","vpt":-0.01e6},{"date":"2022-10-13","vpt":-0.01e6},{"date":"2022-10-14","vpt":0.01e6},
{"date":"2022-10-17","vpt":0.19e6},{"date":"2022-10-18","vpt":0.15e6},{"date":"2022-10-19","vpt":-0.04e6},{"date":"2022-10-20","vpt":0.04e6},{"date":"2022-10-21","vpt":0.03e6},
{"date":"2022-10-24","vpt":0.05e6},{"date":"2022-10-25","vpt":0.03e6},{"date":"2022-10-26","vpt":0.03e6},{"date":"2022-10-27","vpt":0.04e6},{"date":"2022-10-28","vpt":0.03e6},
{"date":"2022-10-31","vpt":0.03e6},{"date":"2022-11-01","vpt":0.04e6},{"date":"2022-11-02","vpt":0.03e6},{"date":"2022-11-03","vpt":0.03e6},{"date":"2022-11-04","vpt":0.02e6},
{"date":"2022-11-07","vpt":0.03e6},{"date":"2022-11-08","vpt":0.02e6},{"date":"2022-11-09","vpt":0.04e6},{"date":"2022-11-10","vpt":0.05e6},{"date":"2022-11-11","vpt":0.09e6},
{"date":"2022-11-14","vpt":0.22e6},{"date":"2022-11-15","vpt":0.19e6},{"date":"2022-11-16","vpt":-0.23e6},{"date":"2022-11-17","vpt":-0.27e6},{"date":"2022-11-18","vpt":-0.47e6},
{"date":"2022-11-21","vpt":-0.41e6},{"date":"2022-11-22","vpt":0.1e6},{"date":"2022-11-23","vpt":0.025e6},{"date":"2022-11-24","vpt":0.02e6},{"date":"2022-11-25","vpt":0.02e6},
{"date":"2022-11-28","vpt":0.01e6},{"date":"2022-11-29","vpt":0.02e6},{"date":"2022-11-30","vpt":0.02e6},{"date":"2022-12-01","vpt":0.02e6},{"date":"2022-12-02","vpt":0.02e6},
{"date":"2022-12-05","vpt":0.02e6},{"date":"2022-12-06","vpt":0.02e6},{"date":"2022-12-07","vpt":-0.04e6},{"date":"2022-12-08","vpt":-0.01e6},{"date":"2022-12-09","vpt":0.04e6}
]
},
"vconcat": [
{
 "width": 1915, "height": 361,
 "data": {"name": "price"},
 "mark": {"type": "line", "color": "#008000", "strokeWidth": 2, "strokeJoin": "round"},
 "encoding": {
  "x": {"field": "date", "type": "temporal", "scale": {"type": "utc", "domain": [1637249760000, 1672129440000]}, "axis": null},
  "y": {"field": "close", "type": "quantitative", "scale": {"domain": [11230, 28002], "zero": false, "nice": false}, "axis": {"values": [12000,14000,16000,18000,20000,22000,24000,26000,28000], "format": "d", "title": null}}
 }
},
{
 "width": 1915, "height": 180,
 "data": {"name": "vol"},
 "mark": {"type": "bar", "size": 4.2, "orient": "vertical"},
 "encoding": {
  "x": {"field": "i", "type": "quantitative", "scale": {"domain": [-12.45, 261.45], "nice": false, "zero": false}, "axis": null},
  "y": {"field": "volume", "type": "quantitative", "scale": {"domain": [0, 6350000], "nice": false}, "axis": {"values": [0,2000000,4000000,6000000], "labelExpr": "format(datum.value/1e6,'d')", "title": "1e6", "titleAngle": 0, "titleAlign": "left", "titleBaseline": "bottom", "titleX": 0, "titleY": -4}},
  "color": {"field": "dir", "type": "nominal", "scale": {"domain": ["up","down","flat"], "range": ["#ff0000","#0000ff","#000000"]}, "legend": null}
 }
},
{
 "width": 1915, "height": 180,
 "data": {"name": "obv"},
 "mark": {"type": "line", "strokeWidth": 2, "strokeJoin": "round"},
 "encoding": {
  "x": {"field": "date", "type": "temporal", "scale": {"type": "utc", "domain": [1637249760000, 1672129440000]}, "axis": null},
  "y": {"field": "obv", "type": "quantitative", "scale": {"domain": [-6070000, 14720000], "zero": false, "nice": false}, "axis": {"values": [-5000000,0,5000000,10000000], "labelExpr": "format(datum.value/1e7,'.1f')", "title": "1e7", "titleAngle": 0, "titleAlign": "left", "titleBaseline": "bottom", "titleX": 0, "titleY": -4}},
  "color": {"datum": "OBV", "type": "nominal", "scale": {"domain": ["OBV"], "range": ["#0000ff"]}, "legend": {"title": null}}
 }
},
{
 "width": 1915, "height": 180,
 "data": {"name": "cmf"},
 "mark": {"type": "line", "strokeWidth": 2, "strokeJoin": "round"},
 "encoding": {
  "x": {"field": "date", "type": "temporal", "scale": {"type": "utc", "domain": [1637249760000, 1672129440000]}, "axis": null},
  "y": {"field": "cmf", "type": "quantitative", "scale": {"domain": [-0.671, 0.485], "zero": false, "nice": false}, "axis": {"values": [-0.6,-0.4,-0.2,0,0.2,0.4], "format": ".1f", "title": null}},
  "color": {"datum": "CMF(20)", "type": "nominal", "scale": {"domain": ["CMF(20)"], "range": ["#0000ff"]}, "legend": {"title": null}}
 }
},
{
 "width": 1915, "height": 180,
 "data": {"name": "vpt"},
 "mark": {"type": "line", "strokeWidth": 2, "strokeJoin": "round"},
 "encoding": {
  "x": {"field": "date", "type": "temporal", "scale": {"type": "utc", "domain": [1637249760000, 1672129440000]}, "axis": {"values": [1640995200000,1646092800000,1651363200000,1656633600000,1661990400000,1667260800000], "labelExpr": "utcFormat(datum.value, '%Y-%m')", "title": null, "labelPadding": 5}},
  "y": {"field": "vpt", "type": "quantitative", "scale": {"domain": [-1940000, 1450000], "zero": false, "nice": false}, "axis": {"values": [-1000000,0,1000000], "labelExpr": "format(datum.value/1e6,'d')", "title": "1e6", "titleAngle": 0, "titleAlign": "left", "titleBaseline": "bottom", "titleX": 0, "titleY": -4}},
  "color": {"datum": "VPT", "type": "nominal", "scale": {"domain": ["VPT"], "range": ["#0000ff"]}, "legend": {"title": null}}
 }
}
],
"spacing": 40,
"bounds": "flush",
"resolve": {"scale": {"x": "independent", "y": "independent", "color": "independent"}, "legend": {"color": "independent"}}
}
